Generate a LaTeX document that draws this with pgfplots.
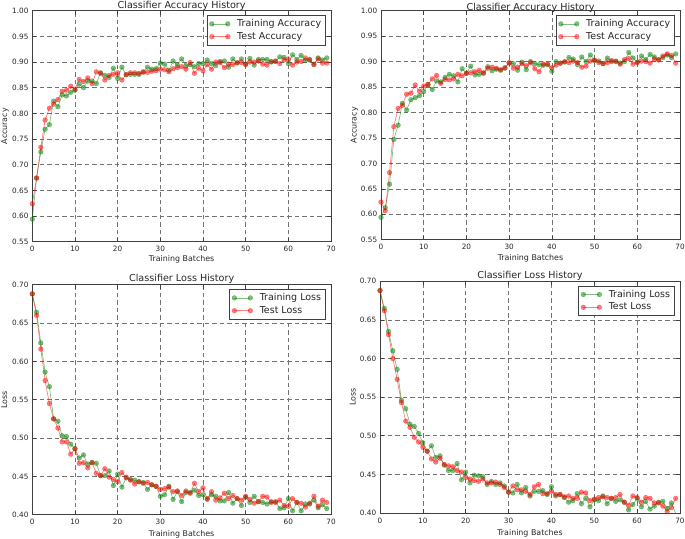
\documentclass[border=0pt]{standalone}
\usepackage{fontspec}
\setmainfont{DejaVu Sans}
\usepackage{pgfplots}
\usepackage{pgfplotstable}
\pgfplotsset{compat=1.18}
\definecolor{mgreen}{rgb}{0,0.5,0}
\definecolor{mred}{rgb}{1,0,0}
\definecolor{frame}{rgb}{0.25,0.25,0.25}

\pgfplotstableread{
x train test
0 0.594 0.624
1 0.674 0.674
2 0.725 0.734
3 0.769 0.787
4 0.778 0.810
5 0.824 0.818
6 0.813 0.827
7 0.836 0.843
8 0.834 0.845
9 0.841 0.853
10 0.845 0.847
11 0.857 0.866
12 0.850 0.862
13 0.863 0.869
14 0.863 0.858
15 0.858 0.881
16 0.879 0.878
17 0.874 0.865
18 0.870 0.874
19 0.888 0.876
20 0.868 0.879
21 0.890 0.865
22 0.875 0.876
23 0.876 0.879
24 0.876 0.879
25 0.876 0.878
26 0.881 0.880
27 0.890 0.880
28 0.886 0.882
29 0.887 0.883
30 0.898 0.886
31 0.896 0.885
32 0.884 0.881
33 0.902 0.887
34 0.894 0.889
35 0.906 0.891
36 0.893 0.886
37 0.895 0.899
38 0.891 0.878
39 0.897 0.888
40 0.897 0.883
41 0.904 0.895
42 0.897 0.886
43 0.893 0.900
44 0.901 0.899
45 0.902 0.889
46 0.890 0.896
47 0.906 0.895
48 0.898 0.899
49 0.906 0.899
50 0.896 0.895
51 0.907 0.900
52 0.894 0.900
53 0.905 0.902
54 0.905 0.896
55 0.905 0.894
56 0.900 0.901
57 0.902 0.901
58 0.910 0.897
59 0.909 0.904
60 0.897 0.906
61 0.914 0.894
62 0.905 0.900
63 0.913 0.901
64 0.903 0.908
65 0.904 0.905
66 0.896 0.895
67 0.908 0.906
68 0.904 0.898
69 0.908 0.898
}\accA

\pgfplotstableread{
x train test
0 0.594 0.624
1 0.613 0.607
2 0.659 0.682
3 0.747 0.772
4 0.775 0.808
5 0.818 0.814
6 0.805 0.836
7 0.825 0.838
8 0.829 0.854
9 0.833 0.842
10 0.841 0.852
11 0.855 0.855
12 0.845 0.866
13 0.862 0.873
14 0.860 0.857
15 0.869 0.865
16 0.875 0.864
17 0.872 0.866
18 0.860 0.875
19 0.886 0.872
20 0.877 0.877
21 0.891 0.878
22 0.874 0.880
23 0.875 0.883
24 0.877 0.878
25 0.890 0.887
26 0.882 0.889
27 0.885 0.887
28 0.883 0.884
29 0.887 0.888
30 0.897 0.898
31 0.896 0.887
32 0.883 0.889
33 0.899 0.896
34 0.884 0.892
35 0.900 0.898
36 0.896 0.886
37 0.894 0.880
38 0.893 0.895
39 0.894 0.895
40 0.881 0.888
41 0.900 0.893
42 0.897 0.897
43 0.899 0.900
44 0.908 0.898
45 0.905 0.901
46 0.894 0.898
47 0.909 0.889
48 0.900 0.891
49 0.913 0.901
50 0.902 0.903
51 0.901 0.898
52 0.896 0.896
53 0.907 0.898
54 0.900 0.902
55 0.901 0.900
56 0.897 0.895
57 0.900 0.904
58 0.918 0.906
59 0.907 0.895
60 0.899 0.898
61 0.911 0.901
62 0.904 0.900
63 0.914 0.897
64 0.909 0.905
65 0.904 0.903
66 0.908 0.911
67 0.913 0.915
68 0.908 0.912
69 0.915 0.897
}\accB

\pgfplotstableread{
x train test
0 0.688 0.688
1 0.664 0.660
2 0.624 0.616
3 0.586 0.575
4 0.567 0.545
5 0.525 0.525
6 0.522 0.513
7 0.503 0.495
8 0.502 0.495
9 0.492 0.479
10 0.486 0.486
11 0.474 0.467
12 0.478 0.468
13 0.466 0.461
14 0.468 0.468
15 0.467 0.454
16 0.451 0.451
17 0.451 0.460
18 0.457 0.449
19 0.438 0.446
20 0.453 0.443
21 0.436 0.455
22 0.448 0.449
23 0.446 0.445
24 0.445 0.440
25 0.443 0.443
26 0.442 0.441
27 0.433 0.442
28 0.439 0.439
29 0.437 0.437
30 0.424 0.433
31 0.426 0.434
32 0.437 0.436
33 0.420 0.430
34 0.430 0.431
35 0.417 0.425
36 0.429 0.431
37 0.429 0.428
38 0.432 0.441
39 0.425 0.430
40 0.426 0.435
41 0.420 0.421
42 0.426 0.430
43 0.424 0.419
44 0.418 0.422
45 0.418 0.428
46 0.429 0.421
47 0.415 0.425
48 0.421 0.421
49 0.412 0.419
50 0.423 0.424
51 0.416 0.420
52 0.424 0.415
53 0.417 0.417
54 0.416 0.424
55 0.414 0.423
56 0.417 0.416
57 0.417 0.416
58 0.408 0.419
59 0.409 0.412
60 0.421 0.411
61 0.405 0.421
62 0.416 0.416
63 0.405 0.415
64 0.414 0.410
65 0.414 0.415
66 0.419 0.424
67 0.409 0.411
68 0.413 0.419
69 0.408 0.416
}\lossA

\pgfplotstableread{
x train test
0 0.688 0.688
1 0.665 0.662
2 0.635 0.631
3 0.610 0.600
4 0.586 0.573
5 0.546 0.543
6 0.535 0.519
7 0.515 0.511
8 0.512 0.498
9 0.503 0.492
10 0.491 0.485
11 0.480 0.480
12 0.487 0.470
13 0.472 0.466
14 0.474 0.471
15 0.462 0.463
16 0.455 0.461
17 0.455 0.460
18 0.464 0.455
19 0.443 0.453
20 0.453 0.446
21 0.439 0.444
22 0.449 0.442
23 0.448 0.441
24 0.447 0.444
25 0.437 0.439
26 0.441 0.439
27 0.437 0.440
28 0.439 0.437
29 0.435 0.433
30 0.427 0.427
31 0.426 0.435
32 0.437 0.430
33 0.426 0.430
34 0.433 0.428
35 0.422 0.424
36 0.428 0.434
37 0.428 0.437
38 0.429 0.425
39 0.424 0.425
40 0.434 0.428
41 0.422 0.424
42 0.424 0.424
43 0.420 0.421
44 0.414 0.422
45 0.416 0.419
46 0.425 0.419
47 0.412 0.427
48 0.419 0.426
49 0.408 0.416
50 0.417 0.418
51 0.416 0.420
52 0.422 0.421
53 0.412 0.420
54 0.419 0.419
55 0.415 0.420
56 0.417 0.424
57 0.414 0.414
58 0.404 0.410
59 0.411 0.422
60 0.419 0.420
61 0.408 0.414
62 0.415 0.420
63 0.405 0.419
64 0.409 0.413
65 0.414 0.413
66 0.415 0.409
67 0.406 0.402
68 0.413 0.407
69 0.399 0.419
}\lossB

\pgfplotsset{
  myax/.style={
    scale only axis,
    anchor=south west,
    xmin=0, xmax=70,
    xtick={0,10,...,70},
    axis line style={frame, line width=0.8pt},
    grid=major,
    major grid style={black!55, line width=0.6pt, dash pattern=on 4.5pt off 3pt},
    tick style={frame, line width=0.6pt},
    major tick length=4pt,
    tick align=inside,
    /pgf/number format/assume math mode=true,
    every tick label/.append style={font=\fontsize{7.3}{8.5}\selectfont, inner sep=0pt, text=black!85},
    yticklabel style={xshift=-3.6pt, /pgf/number format/.cd, fixed, fixed zerofill, precision=2},
    xticklabel style={yshift=-4.5pt},
    label style={font=\fontsize{7.9}{9}\selectfont, text=black!85},
    xlabel={Training Batches},
    every axis title shift=0pt,
    title style={at={(axis description cs:0.5,1)}, anchor=base, yshift=3.2pt, inner sep=0pt, font=\fontsize{9.6}{11}\selectfont, text=black!85},
    legend style={at={(1,1)}, anchor=north east, xshift=-5pt, yshift=-4.4pt,
      draw=frame, line width=0.8pt, font=\fontsize{9.5}{11}\selectfont, text=black!85,
      inner xsep=2.5pt, inner ysep=2pt, row sep=0pt,
      nodes={inner ysep=1.9pt, inner xsep=2pt, text height=7pt, text depth=2pt},
      /tikz/every odd column/.append style={column sep=5pt}},
    legend cell align=left,
    legend image code/.code={\draw[##1] plot coordinates {(0pt,0pt) (16pt,0pt)};},
  },
  trainst/.style={color=mgreen, line width=0.7pt, opacity=0.5, mark=*, mark size=2.4pt, mark options={solid, line width=0.3pt}},
  testst/.style={color=mred, line width=0.7pt, opacity=0.5, mark=*, mark size=2.4pt, mark options={solid, line width=0.3pt}},
}

\begin{document}
\begin{tikzpicture}[x=1pt,y=1pt]
\useasboundingbox (0,0) rectangle (685,538);

\begin{axis}[myax, at={(32.3pt,296.3pt)}, width=298.7pt, height=231pt,
  ymin=0.55, ymax=1.0, ytick={0.55,0.60,...,1.001},
  title={Classifier Accuracy History}, ylabel={Accuracy},
  title style={yshift=-0.6pt},
  xlabel style={at={(axis description cs:0.5,0)}, anchor=base, yshift=-20.3pt},
  ylabel style={at={(axis description cs:0,0.5)}, anchor=base, yshift=25.3pt}]
\addplot[trainst] table[x=x,y=train] {\accA};
\addlegendentry{Training Accuracy}
\addplot[testst] table[x=x,y=test] {\accA};
\addlegendentry{Test Accuracy}
\end{axis}

\begin{axis}[myax, at={(381pt,298.3pt)}, width=299pt, height=229pt,
  ymin=0.55, ymax=1.0, ytick={0.55,0.60,...,1.001},
  title={Classifier Accuracy History}, ylabel={Accuracy},
  title style={yshift=-2.6pt},
  xlabel style={at={(axis description cs:0.5,0)}, anchor=base, yshift=-21.3pt},
  ylabel style={at={(axis description cs:0,0.5)}, anchor=base, yshift=24.5pt}]
\addplot[trainst] table[x=x,y=train] {\accB};
\addlegendentry{Training Accuracy}
\addplot[testst] table[x=x,y=test] {\accB};
\addlegendentry{Test Accuracy}
\end{axis}

\begin{axis}[myax, at={(32.3pt,23.3pt)}, width=298.7pt, height=230pt,
  ymin=0.40, ymax=0.70, ytick={0.40,0.45,...,0.701},
  title={Classifier Loss History}, ylabel={Loss},
  xlabel style={at={(axis description cs:0.5,0)}, anchor=base, yshift=-21.3pt},
  ylabel style={at={(axis description cs:0,0.5)}, anchor=base, yshift=25.3pt}]
\addplot[trainst] table[x=x,y=train] {\lossA};
\addlegendentry{Training Loss}
\addplot[testst] table[x=x,y=test] {\lossA};
\addlegendentry{Test Loss}
\end{axis}

\begin{axis}[myax, at={(380pt,25pt)}, width=300pt, height=231.7pt,
  ymin=0.40, ymax=0.70, ytick={0.40,0.45,...,0.701},
  title={Classifier Loss History}, ylabel={Loss},
  xlabel style={at={(axis description cs:0.5,0)}, anchor=base, yshift=-22pt},
  ylabel style={at={(axis description cs:0,0.5)}, anchor=base, yshift=24.5pt}]
\addplot[trainst] table[x=x,y=train] {\lossB};
\addlegendentry{Training Loss}
\addplot[testst] table[x=x,y=test] {\lossB};
\addlegendentry{Test Loss}
\end{axis}
\end{tikzpicture}
\end{document}
